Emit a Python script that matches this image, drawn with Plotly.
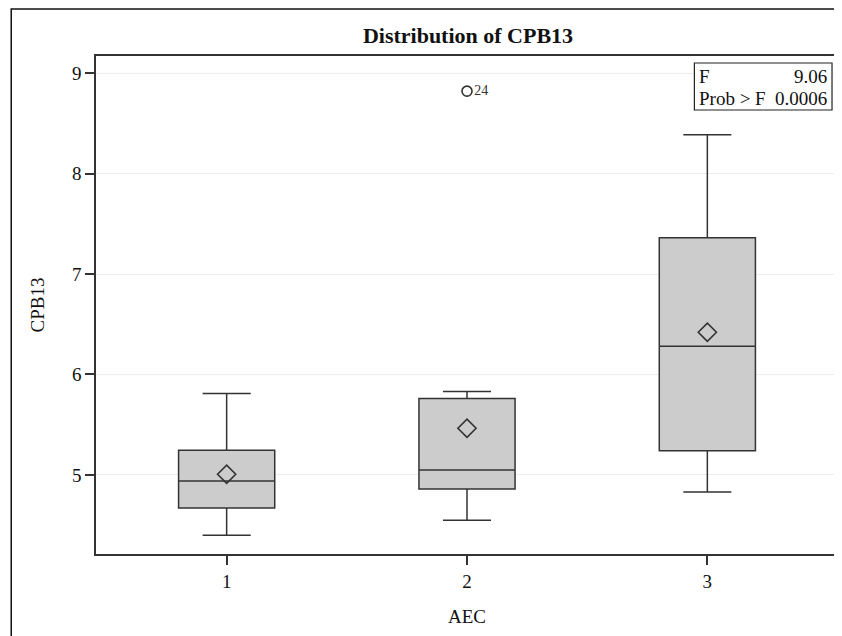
import plotly.graph_objects as go

# ---- data ----
groups = [1, 2, 3]
q1 = [4.67, 4.86, 5.24]
median = [4.94, 5.05, 6.28]
q3 = [5.245, 5.76, 7.36]
lower = [4.40, 4.55, 4.83]
upper = [5.81, 5.83, 8.385]
means = [5.007, 5.465, 6.42]
outlier_x = [2]
outlier_y = [8.82]
outlier_labels = ["24"]
y_ticks = [5, 6, 7, 8, 9]
f_value = "9.06"
p_value = "0.0006"

OFF = 8  # default page body margin
W, H = 834, 628
L, R, T, B = 88, 2, 48, 82
pw = W - L - R
ph = H - T - B

def px2paper_x(px):
    return (px - OFF - L) / pw

def px2paper_y(py):
    return (H - B - (py - OFF)) / ph

serif = "Liberation Serif, Times New Roman, serif"
dark = "#333333"

fig = go.Figure()
fig.add_trace(go.Box(
    x=groups, q1=q1, median=median, q3=q3,
    lowerfence=lower, upperfence=upper,
    width=0.4, whiskerwidth=0.5,
    fillcolor="#cccccc", line=dict(color=dark, width=1.5),
    boxpoints=False, showlegend=False, hoverinfo="skip",
))
fig.add_trace(go.Scatter(
    x=groups, y=means, mode="markers",
    marker=dict(symbol="diamond-open", size=14, color=dark, line=dict(width=1.6, color=dark)),
    showlegend=False, hoverinfo="skip",
))
fig.add_trace(go.Scatter(
    x=outlier_x, y=outlier_y, mode="markers+text",
    text=outlier_labels, textposition="middle right",
    textfont=dict(family=serif, size=14, color=dark),
    marker=dict(symbol="circle-open", size=10, color=dark, line=dict(width=1.6, color=dark)),
    showlegend=False, hoverinfo="skip",
))

# stats inset box
fig.add_shape(type="rect", xref="paper", yref="paper",
              x0=px2paper_x(696), x1=px2paper_x(834),
              y0=px2paper_y(110), y1=px2paper_y(63),
              line=dict(color="#222222", width=1.2), fillcolor="white", layer="above")
for txt, xp, anchor, yp in [
    ("F", 699, "left", 76), (f_value, 831, "right", 76),
    ("Prob &gt; F", 699, "left", 99), (p_value, 831, "right", 99),
]:
    fig.add_annotation(text=txt, xref="paper", yref="paper",
                       x=px2paper_x(xp), y=px2paper_y(yp),
                       xanchor=anchor, yanchor="middle", showarrow=False,
                       font=dict(family=serif, size=19, color="#111111"))

# outer frame
fig.add_shape(type="rect", xref="paper", yref="paper",
              x0=px2paper_x(11), x1=px2paper_x(W + 40),
              y0=px2paper_y(H + 40), y1=px2paper_y(9),
              line=dict(color="#111111", width=1.5), fillcolor="rgba(0,0,0,0)", layer="below")

fig.update_layout(
    width=W, height=H,
    margin=dict(l=L, r=R, t=T, b=B),
    paper_bgcolor="white", plot_bgcolor="white",
    title=dict(text="<b>Distribution of CPB13</b>", x=(L + pw / 2) / W, xanchor="center",
               y=1 - (35 - OFF) / H, yanchor="middle",
               font=dict(family=serif, size=22, color="#111111")),
    font=dict(family=serif, size=19, color="#111111"),
    xaxis=dict(
        range=[0.4564, 3.5436], tickvals=groups, ticktext=[str(g) for g in groups],
        showgrid=False, zeroline=False, showline=True, mirror=True,
        linecolor=dark, linewidth=1.5, ticks="outside", ticklen=9, tickcolor=dark,
        tickwidth=1.5, tickfont=dict(family=serif, size=19),
        title=dict(text="AEC", font=dict(family=serif, size=19), standoff=19),
    ),
    yaxis=dict(
        range=[4.213, 9.17], tickvals=y_ticks,
        showgrid=True, gridcolor="#ececec", gridwidth=1, zeroline=False,
        showline=True, mirror=True, linecolor=dark, linewidth=1.5,
        ticks="outside", ticklen=9, tickcolor=dark, tickwidth=1.5,
        tickfont=dict(family=serif, size=19),
        title=dict(text="CPB13", font=dict(family=serif, size=19), standoff=22),
    ),
)

fig.write_html("out.html")
